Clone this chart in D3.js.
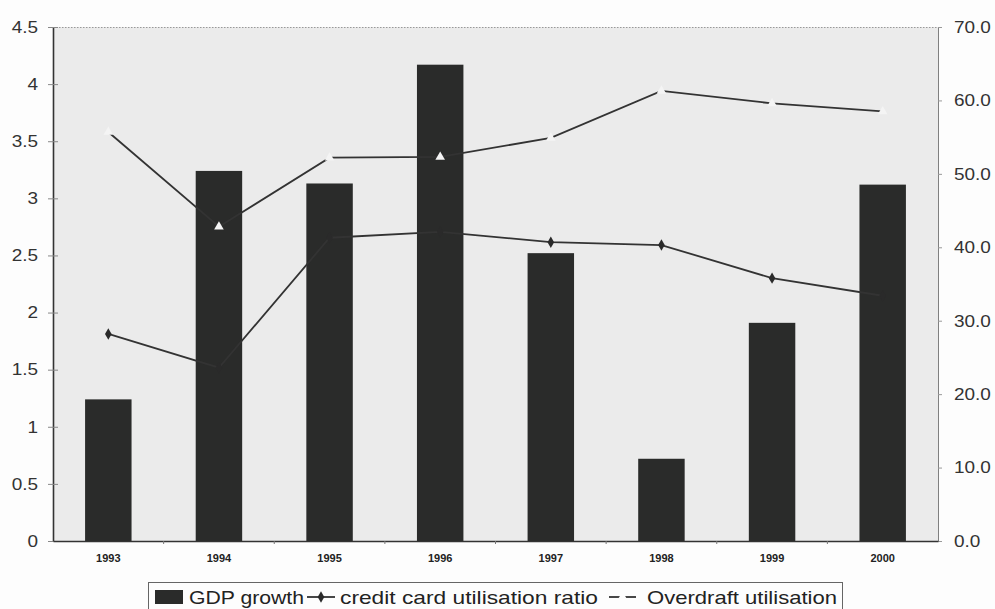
<!DOCTYPE html>
<html>
<head>
<meta charset="utf-8">
<script src="https://cdn.jsdelivr.net/npm/d3@7"></script>
<style>
  html, body { margin: 0; padding: 0; background: #fdfdfd; }
  svg { display: block; font-family: Arial, "Liberation Sans", Helvetica, sans-serif; }
</style>
</head>
<body>
<svg id="chart" width="995" height="609"></svg>
<script>
// Categories and series
const years = ["1993", "1994", "1995", "1996", "1997", "1998", "1999", "2000"];
const gdpGrowth = [1.24, 3.24, 3.13, 4.17, 2.52, 0.72, 1.91, 3.12];
const creditCardUtilisation = [28.2, 23.6, 41.3, 42.1, 40.7, 40.3, 35.8, 33.4];
const overdraftUtilisation = [55.7, 42.8, 52.2, 52.3, 54.9, 61.3, 59.6, 58.5];

// Tick values
const leftTicks = [0, 0.5, 1, 1.5, 2, 2.5, 3, 3.5, 4, 4.5];
const rightTicks = [0, 10, 20, 30, 40, 50, 60, 70];

const svg = d3.select("#chart");
const plot = { left: 53, right: 938, top: 27, bottom: 541 };

const x = d3.scaleBand().domain(years)
  .range([plot.left, plot.right])
  .paddingInner(0.58).paddingOuter(0.29);
const xp = d3.scalePoint().domain(years)
  .range([plot.left, plot.right]).padding(0.5);
const yL = d3.scaleLinear().domain([0, 4.5]).range([plot.bottom, plot.top]);
const yR = d3.scaleLinear().domain([0, 70]).range([plot.bottom, plot.top]);

// Stretch text horizontally around its own anchor point
function stretch(sel, s) {
  sel.each(function () {
    const t = d3.select(this);
    const tx = +t.attr("x") || 0, ty = +t.attr("y") || 0;
    t.attr("x", 0).attr("y", 0)
      .attr("transform", `translate(${tx},${ty}) scale(${s},1)`);
  });
}

// Plot area background
svg.append("rect")
  .attr("x", plot.left).attr("y", plot.top)
  .attr("width", plot.right - plot.left).attr("height", plot.bottom - plot.top)
  .attr("fill", "#ebebeb");

// Top border (dotted) and right border
svg.append("line")
  .attr("x1", plot.left).attr("x2", plot.right)
  .attr("y1", plot.top + 0.5).attr("y2", plot.top + 0.5)
  .attr("stroke", "#999").attr("stroke-dasharray", "1.5,1.5");
svg.append("line")
  .attr("x1", plot.right + 0.5).attr("x2", plot.right + 0.5)
  .attr("y1", plot.top).attr("y2", plot.bottom)
  .attr("stroke", "#808080").attr("stroke-width", 1);

// Bars: GDP growth (left axis)
svg.append("g").selectAll("rect")
  .data(years)
  .join("rect")
  .attr("x", d => x(d))
  .attr("width", x.bandwidth())
  .attr("y", (d, i) => yL(gdpGrowth[i]))
  .attr("height", (d, i) => yL(0) - yL(gdpGrowth[i]))
  .attr("fill", "#2a2b2a");

// Lines (right axis)
const lineGen = vals => d3.line()
  .x((d, i) => xp(years[i]))
  .y(d => yR(d))(vals);

svg.append("path")
  .attr("d", lineGen(overdraftUtilisation))
  .attr("fill", "none").attr("stroke", "#333").attr("stroke-width", 1.8);
svg.append("path")
  .attr("d", lineGen(creditCardUtilisation))
  .attr("fill", "none").attr("stroke", "#333").attr("stroke-width", 1.8);

// Markers
const diamond = d3.symbol().type(d3.symbolDiamond).size(38);
const triangle = d3.symbol().type(d3.symbolTriangle).size(40);

svg.append("g").selectAll("path")
  .data(creditCardUtilisation)
  .join("path")
  .attr("d", diamond)
  .attr("transform", (d, i) => `translate(${xp(years[i])},${yR(d)})`)
  .attr("fill", "#2a2a2a");

svg.append("g").selectAll("path")
  .data(overdraftUtilisation)
  .join("path")
  .attr("d", triangle)
  .attr("transform", (d, i) => `translate(${xp(years[i])},${yR(d)})`)
  .attr("fill", "#f4f4f4");

// Left axis
const gL = svg.append("g")
  .attr("transform", `translate(${plot.left},0)`)
  .call(d3.axisLeft(yL).tickValues(leftTicks).tickFormat(d3.format("~g"))
    .tickSizeInner(5).tickSizeOuter(0).tickPadding(10));
gL.select(".domain").attr("stroke", "#333").attr("stroke-width", 1.6);
gL.selectAll(".tick line").attr("stroke", "#888").attr("x2", 5).attr("x1", -5);
gL.selectAll(".tick text")
  .attr("font-size", 16.5).attr("fill", "#333")
  .attr("font-family", "Arial, 'Liberation Sans', sans-serif");
stretch(gL.selectAll(".tick text"), 1.15);

// Right axis
const gR = svg.append("g")
  .attr("transform", `translate(${plot.right},0)`)
  .call(d3.axisRight(yR).tickValues(rightTicks).tickFormat(d3.format(".1f"))
    .tickSizeInner(4).tickSizeOuter(0).tickPadding(12));
gR.select(".domain").attr("stroke", "#808080");
gR.selectAll(".tick line").attr("stroke", "#999");
gR.selectAll(".tick text")
  .attr("font-size", 16.5).attr("fill", "#333")
  .attr("font-family", "Arial, 'Liberation Sans', sans-serif");
stretch(gR.selectAll(".tick text"), 1.15);

// Bottom axis
const gB = svg.append("g")
  .attr("transform", `translate(0,${plot.bottom})`)
  .call(d3.axisBottom(x).tickSize(0).tickPadding(13));
gB.select(".domain").attr("stroke", "#333").attr("stroke-width", 1.4);
gB.selectAll(".tick text")
  .attr("font-size", 11).attr("fill", "#222").attr("font-weight", "bold")
  .attr("font-family", "Arial, 'Liberation Sans', sans-serif");
// small category-boundary ticks
gB.append("g").selectAll("line")
  .data(years.slice(1))
  .join("line")
  .attr("x1", d => xp(d) - xp.step() / 2).attr("x2", d => xp(d) - xp.step() / 2)
  .attr("y1", 0).attr("y2", 3)
  .attr("stroke", "#777");

// Legend
const lg = svg.append("g");
lg.append("rect")
  .attr("x", 148.5).attr("y", 582.5).attr("width", 694).attr("height", 40)
  .attr("fill", "#fdfdfd").attr("stroke", "#666").attr("stroke-width", 1);

const legendFont = 19;
const legendY = 603.5;

lg.append("rect")
  .attr("x", 155).attr("y", 590).attr("width", 28).attr("height", 14)
  .attr("fill", "#2a2b2a");
lg.append("text").attr("x", 189).attr("y", legendY)
  .attr("font-size", legendFont).attr("fill", "#222")
  .attr("textLength", 115).attr("lengthAdjust", "spacingAndGlyphs")
  .text("GDP growth");

lg.append("line").attr("x1", 307).attr("x2", 335).attr("y1", 597).attr("y2", 597)
  .attr("stroke", "#333").attr("stroke-width", 1.8);
lg.append("path").attr("d", diamond)
  .attr("transform", "translate(321,597)").attr("fill", "#2a2a2a");
lg.append("text").attr("x", 340).attr("y", legendY)
  .attr("font-size", legendFont).attr("fill", "#222")
  .attr("textLength", 258).attr("lengthAdjust", "spacingAndGlyphs")
  .text("credit card utilisation ratio");

lg.append("line").attr("x1", 609).attr("x2", 636).attr("y1", 597).attr("y2", 597)
  .attr("stroke", "#333").attr("stroke-width", 1.8);
lg.append("path").attr("d", triangle)
  .attr("transform", "translate(622.5,597)").attr("fill", "#fdfdfd");
lg.append("text").attr("x", 647).attr("y", legendY)
  .attr("font-size", legendFont).attr("fill", "#222")
  .attr("textLength", 190).attr("lengthAdjust", "spacingAndGlyphs")
  .text("Overdraft utilisation");
</script>
</body>
</html>
